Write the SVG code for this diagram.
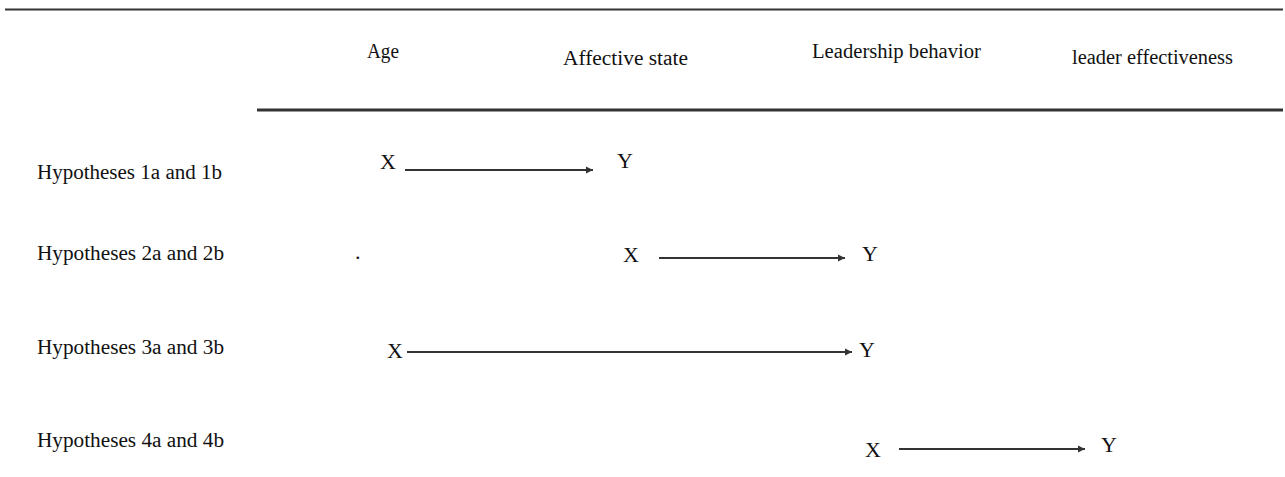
<svg xmlns="http://www.w3.org/2000/svg" width="1285" height="477" viewBox="0 0 1285 477">
  <style>
    text { font-family: "Liberation Serif", "Times New Roman", serif; fill: #111; }
    .hdr { font-size: 20px; }
    .lbl { font-size: 20px; }
    .var { font-size: 22px; }
    .rule { stroke: #333; fill: none; }
    .conn { stroke: #333; stroke-width: 1.8; fill: none; marker-end: url(#arrow); }
  </style>
  <defs>
    <marker id="arrow" markerUnits="userSpaceOnUse" markerWidth="8" markerHeight="8" refX="7" refY="4" orient="auto">
      <path d="M0,0.5 L7,4 L0,7.5 Z" fill="#333"/>
    </marker>
  </defs>

  <g id="rules">
    <line class="rule" x1="5" y1="9.5" x2="1283" y2="9.5" stroke-width="2"/>
    <line class="rule" x1="257" y1="110" x2="1283" y2="110" stroke-width="3"/>
  </g>

  <g id="headers">
    <text id="h-age" class="hdr" x="367" y="58" textLength="32" lengthAdjust="spacingAndGlyphs">Age</text>
    <text id="h-affective" class="hdr" x="563" y="65" textLength="125" lengthAdjust="spacingAndGlyphs">Affective state</text>
    <text id="h-leadership" class="hdr" x="812" y="58" textLength="169" lengthAdjust="spacingAndGlyphs">Leadership behavior</text>
    <text id="h-effectiveness" class="hdr" x="1072" y="64" textLength="161" lengthAdjust="spacingAndGlyphs">leader effectiveness</text>
  </g>

  <g id="row-labels">
    <text id="lbl-h1" class="lbl" x="37" y="179" textLength="185" lengthAdjust="spacingAndGlyphs">Hypotheses 1a and 1b</text>
    <text id="lbl-h2" class="lbl" x="37" y="260" textLength="187" lengthAdjust="spacingAndGlyphs">Hypotheses 2a and 2b</text>
    <text id="lbl-h3" class="lbl" x="37" y="354" textLength="187" lengthAdjust="spacingAndGlyphs">Hypotheses 3a and 3b</text>
    <text id="lbl-h4" class="lbl" x="37" y="447" textLength="187" lengthAdjust="spacingAndGlyphs">Hypotheses 4a and 4b</text>
  </g>

  <g id="node-h1-x"><text class="var" x="380" y="169">X</text></g>
  <g id="node-h1-y"><text class="var" x="617" y="168">Y</text></g>
  <g id="node-h2-dot"><text class="var" x="355" y="259">.</text></g>
  <g id="node-h2-x"><text class="var" x="623" y="262">X</text></g>
  <g id="node-h2-y"><text class="var" x="862" y="261">Y</text></g>
  <g id="node-h3-x"><text class="var" x="387" y="358">X</text></g>
  <g id="node-h3-y"><text class="var" x="859" y="357">Y</text></g>
  <g id="node-h4-x"><text class="var" x="865" y="457">X</text></g>
  <g id="node-h4-y"><text class="var" x="1101" y="452">Y</text></g>

  <g id="connectors">
    <line class="conn" x1="405" y1="170" x2="593" y2="170"/>
    <line class="conn" x1="659" y1="258" x2="845" y2="258"/>
    <line class="conn" x1="407" y1="352" x2="852" y2="352"/>
    <line class="conn" x1="899" y1="449" x2="1085" y2="449"/>
  </g>
</svg>
